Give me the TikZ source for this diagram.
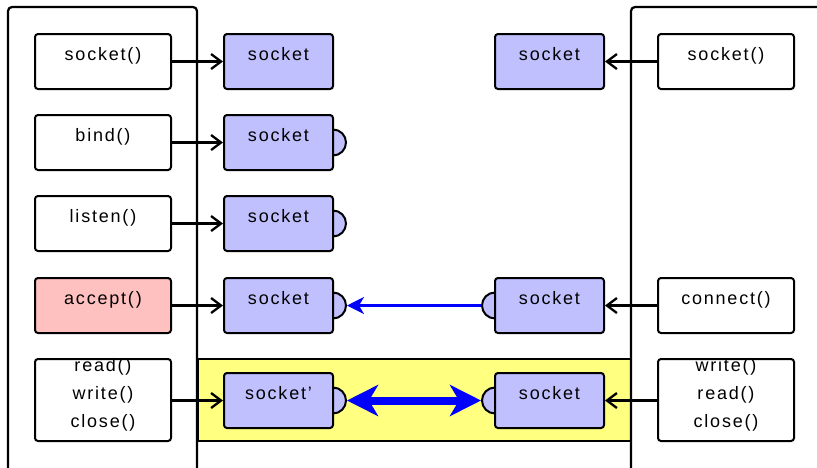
\documentclass[tikz,border=0pt]{standalone}
\usepackage{fontspec}
\setmainfont{Liberation Sans}[LetterSpace=10]
\usetikzlibrary{arrows.meta}
\definecolor{lav}{HTML}{C0C0FF}
\definecolor{pinkc}{HTML}{FFC0C0}
\definecolor{yel}{HTML}{FFFF80}
\newcommand\liftup[2]{\raisebox{#1}[0pt][0pt]{#2}}
\newcommand\threelines[3]{\liftup{28.5pt}{\begin{tabular}[t]{@{}c@{}}#1\\#2\\#3\end{tabular}}}
\begin{document}
\begin{tikzpicture}[x=1pt,y=-1pt,
  font=\fontsize{18}{27.8}\selectfont,
  box/.style={draw, line width=2pt, rounded corners=3pt, minimum width=136pt, minimum height=55pt, inner sep=0pt, fill=white},
  sock/.style={box, fill=lav, minimum width=109pt},
  halfc/.style={draw, line width=2pt, fill=lav},
  frame/.style={line width=2.2pt, rounded corners=4pt},
  conn/.style={line width=2.3pt, -{Straight Barb[length=10pt,width=15pt]}},
  thinblue/.style={line width=2.2pt, blue, -{Stealth[length=17pt,width=17pt,inset=5pt]}},
  thickblue/.style={line width=8pt, blue, {Stealth[length=31pt,width=31pt,inset=9pt]}-{Stealth[length=31pt,width=31pt,inset=9pt]}},
]
\useasboundingbox (0,0) rectangle (817,467);
% yellow connection area
\node[draw, fill=yel, line width=2pt, minimum width=433pt, minimum height=82pt, inner sep=0pt] (conn) at (414.5,400) {};
% host frames
\draw[frame] (8,490) -- (8,7) -- (197,7) -- (197,490);
\draw[frame] (631,490) -- (631,7) -- (840,7);
% socket semicircles
\draw[halfc] ([yshift=13pt]278.5,142.5) ++(54.5,0) arc[start angle=90, end angle=-90, radius=13pt];
\draw[halfc] ([yshift=13pt]278.5,223.5) ++(54.5,0) arc[start angle=90, end angle=-90, radius=13pt];
\draw[halfc] ([yshift=13pt]278.5,305.5) ++(54.5,0) arc[start angle=90, end angle=-90, radius=13pt];
\draw[halfc] ([yshift=13pt]278.5,400.5) ++(54.5,0) arc[start angle=90, end angle=-90, radius=13pt];
\draw[halfc] ([yshift=13pt]549.5,305.5) ++(-54.5,0) arc[start angle=90, end angle=270, radius=13pt];
\draw[halfc] ([yshift=13pt]549.5,400.5) ++(-54.5,0) arc[start angle=90, end angle=270, radius=13pt];
% left functions
\node[box] (lf1) at (103,61.5) {\liftup{1.5pt}{socket()}};
\node[box] (lf2) at (103,142.5) {\liftup{1.5pt}{bind()}};
\node[box] (lf3) at (103,223.5) {\liftup{1.5pt}{listen()}};
\node[box, fill=pinkc] (lf4) at (103,305.5) {\liftup{1.5pt}{accept()}};
\node[box, minimum height=82pt] (lf5) at (103,400) {\threelines{read()}{write()}{close()}};
% left sockets
\node[sock] (ls1) at (278.5,61.5) {\liftup{1.5pt}{socket}};
\node[sock] (ls2) at (278.5,142.5) {\liftup{1.5pt}{socket}};
\node[sock] (ls3) at (278.5,223.5) {\liftup{1.5pt}{socket}};
\node[sock] (ls4) at (278.5,305.5) {\liftup{1.5pt}{socket}};
\node[sock] (ls5) at (278.5,400.5) {\liftup{1.5pt}{socket’}};
% right sockets
\node[sock] (rs1) at (549.5,61.5) {\liftup{1.5pt}{socket}};
\node[sock] (rs4) at (549.5,305.5) {\liftup{1.5pt}{socket}};
\node[sock] (rs5) at (549.5,400.5) {\liftup{1.5pt}{socket}};
% right functions
\node[box] (rf1) at (726,61.5) {\liftup{1.5pt}{socket()}};
\node[box] (rf4) at (726,305.5) {\liftup{1.5pt}{connect()}};
\node[box, minimum height=82pt] (rf5) at (726,400) {\threelines{write()}{read()}{close()}};
% semicircle tips
\coordinate (ltip4) at ([xshift=13pt]ls4.east);
\coordinate (ltip5) at ([xshift=13pt]ls5.east);
\coordinate (rtip4) at ([xshift=-13pt]rs4.west);
\coordinate (rtip5) at ([xshift=-13pt]rs5.west);
% connectors
\draw[conn] (lf1) -- (ls1);
\draw[conn] (lf2) -- (ls2);
\draw[conn] (lf3) -- (ls3);
\draw[conn] (lf4) -- (ls4);
\draw[conn] (lf5.east |- ls5.west) -- (ls5.west);
\draw[conn] (rf1) -- (rs1);
\draw[conn] (rf4) -- (rs4);
\draw[conn] (rf5.west |- rs5.east) -- (rs5.east);
\draw[thinblue] (rtip4) -- (ltip4);
\draw[thickblue] (ltip5) -- (rtip5);
\end{tikzpicture}
\end{document}
